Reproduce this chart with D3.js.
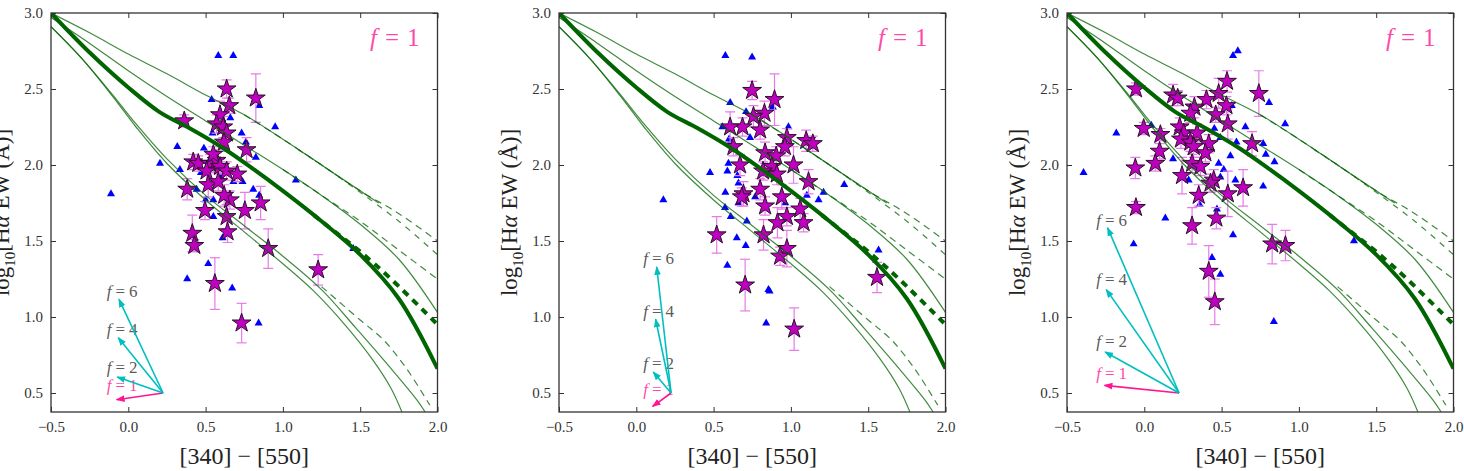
<!DOCTYPE html>
<html>
<head>
<meta charset="utf-8">
<script src="https://cdn.jsdelivr.net/npm/d3@7"></script>
<style>
  body { margin: 0; background: #fff; }
  svg text { font-family: "Liberation Serif", "DejaVu Serif", serif; }
</style>
</head>
<body>
<svg id="chart" width="1464" height="471" font-family="Liberation Serif, serif"></svg>
<script>
const xDomain = [-0.5, 2.0];
const yDomain = [0.375, 3.0];
const xTickValues = [-0.5, 0.0, 0.5, 1.0, 1.5, 2.0];
const yTickValues = [0.5, 1.0, 1.5, 2.0, 2.5, 3.0];

// model tracks, identical in the three panels
const trackTop = [[-0.5,3.0],[-0.25,2.87],[0.0,2.73],[0.25,2.60],[0.5,2.46],[0.75,2.33],[1.0,2.17],[1.25,2.0],[1.5,1.83],[1.62,1.75]];
const trackTopDash = [[0.75,2.33],[1.0,2.17],[1.25,2.0],[1.5,1.83],[1.75,1.68],[2.0,1.50]];
const trackTopDash2 = [[1.1,2.10],[1.25,2.0],[1.5,1.82],[1.75,1.63],[2.0,1.41]];
const trackMid = [[-0.5,2.97],[-0.25,2.80],[0.0,2.62],[0.25,2.45],[0.5,2.29],[0.75,2.13],[1.0,1.97],[1.25,1.80],[1.5,1.61],[1.75,1.38],[2.0,1.03]];
const trackMidDash = [[1.0,1.97],[1.25,1.80],[1.5,1.63],[1.75,1.44],[2.0,1.25]];
const trackMain = [[-0.5,3.0],[-0.25,2.74],[0.0,2.51],[0.2,2.35],[0.4,2.24],[0.6,2.12],[0.8,1.98],[1.0,1.83],[1.25,1.63],[1.5,1.41],[1.75,1.12],[2.0,0.66]];
const trackMainDash = [[1.2,1.67],[1.35,1.55],[1.5,1.43],[1.71,1.24],[2.0,0.95]];
const trackLow1 = [[-0.5,2.91],[-0.3,2.70],[-0.1,2.45],[0.05,2.25],[0.25,2.01],[0.5,1.77],[0.75,1.56],[1.0,1.35],[1.2,1.17],[1.4,0.95],[1.58,0.72],[1.7,0.53],[1.77,0.375]];
const trackLow2 = [[-0.5,2.91],[-0.3,2.70],[-0.1,2.46],[0.05,2.27],[0.25,2.04],[0.5,1.80],[0.75,1.60],[1.0,1.40],[1.25,1.18],[1.47,0.93],[1.7,0.66],[1.87,0.45],[1.92,0.375]];
const trackLowDash = [[1.25,1.20],[1.5,0.98],[1.65,0.85],[1.8,0.66],[1.95,0.42]];

// [x, y, error]
const starsLeft = [
  [0.636,2.50,0.06],[0.825,2.44,0.16],[0.653,2.39,0.05],[0.362,2.29,0.04],[0.593,2.33,0.09],
  [0.571,2.27,0.06],[0.614,2.25,0.07],[0.636,2.21,0.05],[0.619,2.15,0.06],[0.765,2.10,0.08],
  [0.420,2.02,0.05],[0.453,2.01,0.05],[0.528,2.01,0.06],[0.571,2.03,0.07],[0.550,2.07,0.05],
  [0.593,1.99,0.05],[0.636,1.96,0.06],[0.705,1.94,0.05],[0.506,1.96,0.07],[0.381,1.84,0.07],
  [0.517,1.87,0.08],[0.582,1.89,0.06],[0.657,1.77,0.06],[0.620,1.80,0.07],[0.496,1.70,0.06],
  [0.754,1.70,0.12],[0.856,1.75,0.11],[0.636,1.66,0.08],[0.642,1.56,0.07],[0.414,1.55,0.12],
  [0.427,1.47,0.04],[0.905,1.45,0.13],[1.228,1.31,0.10],[0.560,1.22,0.17],[0.733,0.96,0.13]
];
const trianglesLeft = [
  [0.582,2.72],[0.679,2.72],[0.539,2.43],[0.847,2.39],[0.950,2.25],[0.317,2.12],[0.205,2.01],
  [0.334,1.97],[0.489,2.11],[0.545,2.21],[0.733,2.21],[0.761,2.15],[0.825,2.05],[1.084,1.90],
  [-0.112,1.81],[0.442,1.84],[0.550,1.77],[0.739,1.89],[0.808,1.84],[0.847,1.80],[0.680,1.89],
  [0.500,1.77],[0.550,1.66],[0.610,1.52],[0.517,1.35],[0.381,1.25],[0.672,1.19],[0.843,0.96],
  [1.455,1.45],[0.470,1.95],[0.660,2.31],[0.600,1.92]
];
// [f, tip x, tip y, label x, label y]
const arrowsLeft = [[1,-0.075,0.456,-0.14,0.51],[2,-0.071,0.605,-0.14,0.63],[4,-0.065,0.864,-0.14,0.88],[6,-0.06,1.116,-0.14,1.13]];

const starsMiddle = [
  [0.749,2.49,0.06],[0.894,2.43,0.17],[0.829,2.34,0.08],[0.758,2.32,0.07],[0.687,2.25,0.06],
  [0.607,2.25,0.10],[0.801,2.23,0.06],[0.974,2.18,0.06],[1.099,2.16,0.07],[1.142,2.14,0.05],
  [0.961,2.12,0.06],[0.628,2.12,0.06],[0.833,2.08,0.07],[0.905,2.06,0.06],[1.017,2.00,0.12],
  [0.671,2.00,0.07],[0.877,1.99,0.06],[0.820,1.96,0.06],[0.909,1.94,0.07],[1.114,1.89,0.08],
  [0.801,1.84,0.07],[0.693,1.81,0.08],[0.682,1.79,0.06],[0.941,1.79,0.08],[0.833,1.73,0.06],
  [1.060,1.71,0.07],[0.974,1.66,0.06],[0.913,1.62,0.10],[1.082,1.62,0.06],[0.520,1.54,0.12],
  [0.823,1.54,0.10],[0.974,1.45,0.12],[0.930,1.40,0.06],[1.557,1.26,0.10],[0.704,1.21,0.17],
  [1.021,0.92,0.14]
];
const trianglesMiddle = [
  [0.576,2.72],[0.749,2.71],[0.607,2.41],[0.883,2.38],[0.710,2.35],[0.984,2.25],[0.557,2.25],
  [0.736,2.18],[0.607,2.15],[0.477,1.95],[0.596,2.01],[0.589,1.96],[0.654,1.93],[0.661,1.88],
  [0.175,1.77],[0.576,1.82],[1.211,1.82],[1.179,1.77],[1.345,1.87],[1.103,1.80],[0.769,1.79],
  [0.661,1.75],[0.574,1.72],[0.611,1.66],[0.650,1.52],[0.708,1.47],[0.589,1.34],[1.567,1.44],
  [0.715,1.63],[0.855,1.18],[0.862,1.17],[0.840,0.96],[0.963,1.75],[0.600,2.17]
];
const arrowsMiddle = [[1,0.106,0.412,0.045,0.485],[2,0.11,0.638,0.045,0.66],[4,0.125,0.985,0.045,1.0],[6,0.132,1.329,0.045,1.35]];

const starsRight = [
  [-0.054,2.50,0.04],[0.741,2.47,0.15],[0.535,2.55,0.07],[0.186,2.46,0.07],[0.216,2.44,0.05],
  [0.481,2.47,0.10],[0.402,2.43,0.06],[0.324,2.38,0.07],[0.298,2.34,0.06],[0.531,2.39,0.06],
  [0.462,2.33,0.05],[0.540,2.27,0.10],[-0.004,2.24,0.04],[0.229,2.25,0.06],[0.104,2.20,0.04],
  [0.255,2.21,0.05],[0.237,2.17,0.06],[0.341,2.21,0.06],[0.298,2.15,0.06],[0.320,2.12,0.07],
  [0.417,2.14,0.06],[0.697,2.14,0.08],[0.099,2.09,0.05],[0.395,2.08,0.06],[0.071,2.01,0.05],
  [-0.058,1.98,0.07],[0.309,2.01,0.06],[0.363,1.99,0.06],[0.244,1.93,0.12],[0.449,1.90,0.07],
  [0.428,1.88,0.06],[0.639,1.85,0.12],[0.540,1.81,0.15],[0.352,1.80,0.07],[-0.054,1.72,0.04],
  [0.309,1.60,0.12],[0.466,1.65,0.07],[0.827,1.48,0.13],[0.913,1.47,0.10],[0.417,1.30,0.17],
  [0.456,1.10,0.15]
];
const trianglesRight = [
  [0.605,2.75],[0.574,2.72],[-0.393,1.95],[-0.181,2.21],[0.045,2.26],[0.136,1.65],[-0.069,1.48],
  [0.807,2.41],[0.911,2.27],[0.654,2.25],[0.566,2.39],[0.453,2.24],[0.492,2.18],[0.596,2.15],
  [0.769,2.14],[0.786,2.07],[0.842,2.02],[0.769,1.86],[0.481,2.01],[0.514,1.97],[0.557,2.06],
  [0.287,1.90],[0.186,2.04],[0.589,1.90],[0.358,1.74],[0.492,1.92],[0.574,1.54],[0.438,1.39],
  [0.492,1.28],[0.838,0.97],[1.356,1.50],[0.470,1.71]
];
const arrowsRight = [[1,-0.257,0.55,-0.311,0.595],[2,-0.253,0.77,-0.311,0.80],[4,-0.246,1.18,-0.311,1.21],[6,-0.237,1.586,-0.311,1.60]];

const arrowBase = [0.225, 0.5];
const cornerLabel = [1.884, 2.78];

const svg = d3.select('#chart');
const panelLefts = [51, 559, 1067];
const panelTop = 13, width = 386.5, height = 399;
const serif = '"Liberation Serif", "Times New Roman", serif';

const green = '#006400';
const tracks = [
  { pts: trackTop, w: 1.2, dash: null },
  { pts: trackTopDash, w: 1.2, dash: '7,5' },
  { pts: trackTopDash2, w: 1.2, dash: '6,6' },
  { pts: trackMid, w: 1.2, dash: null },
  { pts: trackMidDash, w: 1.2, dash: '7,5' },
  { pts: trackLow1, w: 1.2, dash: null },
  { pts: trackLow2, w: 1.2, dash: null },
  { pts: trackLowDash, w: 1.2, dash: '7,5' },
  { pts: trackMain, w: 4, dash: null },
  { pts: trackMainDash, w: 4, dash: '7,6' }
];

const defs = svg.append('defs');
[['cyanHead', '#00bfbf'], ['pinkHead', '#ff1493']].forEach(([id, c]) => {
  defs.append('marker')
    .attr('id', id)
    .attr('markerUnits', 'userSpaceOnUse')
    .attr('viewBox', '0 0 8 6')
    .attr('markerWidth', 9).attr('markerHeight', 7)
    .attr('refX', 7).attr('refY', 3)
    .attr('orient', 'auto')
    .append('path').attr('d', 'M0,0 L8,3 L0,6 Z').attr('fill', c);
});

const panels = [
  { stars: starsLeft, triangles: trianglesLeft, arrows: arrowsLeft },
  { stars: starsMiddle, triangles: trianglesMiddle, arrows: arrowsMiddle },
  { stars: starsRight, triangles: trianglesRight, arrows: arrowsRight }
];

function fLabel(sel, n, gap) {
  sel.append('tspan').style('font-style', 'italic').text('f');
  sel.append('tspan').attr('dx', gap).text('=');
  sel.append('tspan').attr('dx', gap).text(n);
}

panels.forEach((p, i) => {
  const g = svg.append('g').attr('transform', `translate(${panelLefts[i]},${panelTop})`);
  const x = d3.scaleLinear().domain(xDomain).range([0, width]);
  const y = d3.scaleLinear().domain(yDomain).range([height, 0]);

  g.append('clipPath').attr('id', 'clip' + i)
    .append('rect').attr('width', width).attr('height', height);
  const plot = g.append('g').attr('clip-path', `url(#clip${i})`);

  // triangles
  plot.selectAll('.tri')
    .data(p.triangles)
    .join('path')
    .attr('transform', d => `translate(${x(d[0])},${y(d[1])})`)
    .attr('d', d3.symbol(d3.symbolTriangle, 28))
    .attr('fill', '#0000ff');

  // error bars
  const eb = plot.append('g').attr('stroke', '#e87be8').attr('stroke-width', 1.2).attr('fill', 'none');
  p.stars.forEach(d => {
    const cx = x(d[0]);
    eb.append('line').attr('x1', cx).attr('x2', cx).attr('y1', y(d[1] - d[2])).attr('y2', y(d[1] + d[2]));
    [d[1] - d[2], d[1] + d[2]].forEach(v => {
      eb.append('line').attr('x1', cx - 5).attr('x2', cx + 5).attr('y1', y(v)).attr('y2', y(v));
    });
  });

  plot.selectAll('.star')
    .data(p.stars)
    .join('path')
    .attr('transform', d => `translate(${x(d[0])},${y(d[1])})`)
    .attr('d', d3.symbol(d3.symbolStar, 110))
    .attr('fill', '#bf00bf')
    .attr('stroke', '#2a102a')
    .attr('stroke-width', 1);

  // model tracks
  const line = d3.line().x(d => x(d[0])).y(d => y(d[1])).curve(d3.curveCatmullRom.alpha(0.5));
  tracks.forEach(t => {
    plot.append('path')
      .attr('d', line(t.pts))
      .attr('fill', 'none')
      .attr('stroke', green)
      .attr('stroke-width', t.w)
      .attr('stroke-opacity', t.w > 2 ? 1 : 0.75)
      .attr('stroke-dasharray', t.dash);
  });

  // dust vectors
  p.arrows.forEach(a => {
    const pink = a[0] === 1;
    plot.append('line')
      .attr('x1', x(arrowBase[0])).attr('y1', y(arrowBase[1]))
      .attr('x2', x(a[1])).attr('y2', y(a[2]))
      .attr('stroke', pink ? '#ff1493' : '#00bfbf')
      .attr('stroke-width', 1.6)
      .attr('marker-end', pink ? 'url(#pinkHead)' : 'url(#cyanHead)');
    const t = plot.append('text')
      .attr('x', x(a[3])).attr('y', y(a[4]))
      .style('font-family', serif)
      .style('font-size', '17px')
      .attr('fill', pink ? '#ff1493' : '#444')
      .attr('fill-opacity', pink ? 0.8 : 0.9);
    fLabel(t, a[0], 4);
  });

  const corner = g.append('text')
    .attr('x', x(cornerLabel[0])).attr('y', y(cornerLabel[1]))
    .attr('text-anchor', 'end')
    .style('font-family', serif)
    .style('font-size', '25px')
    .attr('fill', '#ff1493')
    .attr('fill-opacity', 0.8);
  fLabel(corner, 1, 8);

  // axes with inward ticks
  const fmt = d3.format('.1f');
  g.append('g').attr('transform', `translate(0,${height})`)
    .call(d3.axisBottom(x).tickValues(xTickValues).tickFormat(fmt).tickSize(-5).tickPadding(9));
  g.append('g')
    .call(d3.axisLeft(y).tickValues(yTickValues).tickFormat(fmt).tickSize(-5).tickPadding(8));
  g.append('g').call(d3.axisTop(x).tickValues(xTickValues).tickFormat('').tickSize(-5));
  g.append('g').attr('transform', `translate(${width},0)`)
    .call(d3.axisRight(y).tickValues(yTickValues).tickFormat('').tickSize(-5));
  g.selectAll('.domain').remove();
  g.selectAll('.tick line').attr('stroke', '#333').attr('stroke-width', 1);
  g.selectAll('.tick text').style('font-size', '15px').attr('fill', '#333')
    .style('font-family', serif);

  g.append('rect')
    .attr('width', width).attr('height', height)
    .attr('fill', 'none').attr('stroke', '#333').attr('stroke-width', 1.3);

  g.append('text')
    .attr('x', width / 2).attr('y', height + 52)
    .attr('text-anchor', 'middle')
    .style('font-family', serif)
    .style('font-size', '24px')
    .attr('fill', '#222')
    .text('[340] \u2212 [550]');

  const yl = g.append('text')
    .attr('transform', `translate(-42,${height / 2}) rotate(-90)`)
    .attr('text-anchor', 'middle')
    .style('font-family', serif)
    .style('font-size', '23px')
    .attr('fill', '#222');
  yl.append('tspan').text('log');
  yl.append('tspan').attr('dy', 6).style('font-size', '15px').text('10');
  yl.append('tspan').attr('dy', -6).text('[H');
  yl.append('tspan').style('font-style', 'italic').text('\u03b1');
  yl.append('tspan').text(' EW (\u00c5)]');
});
</script>
</body>
</html>
